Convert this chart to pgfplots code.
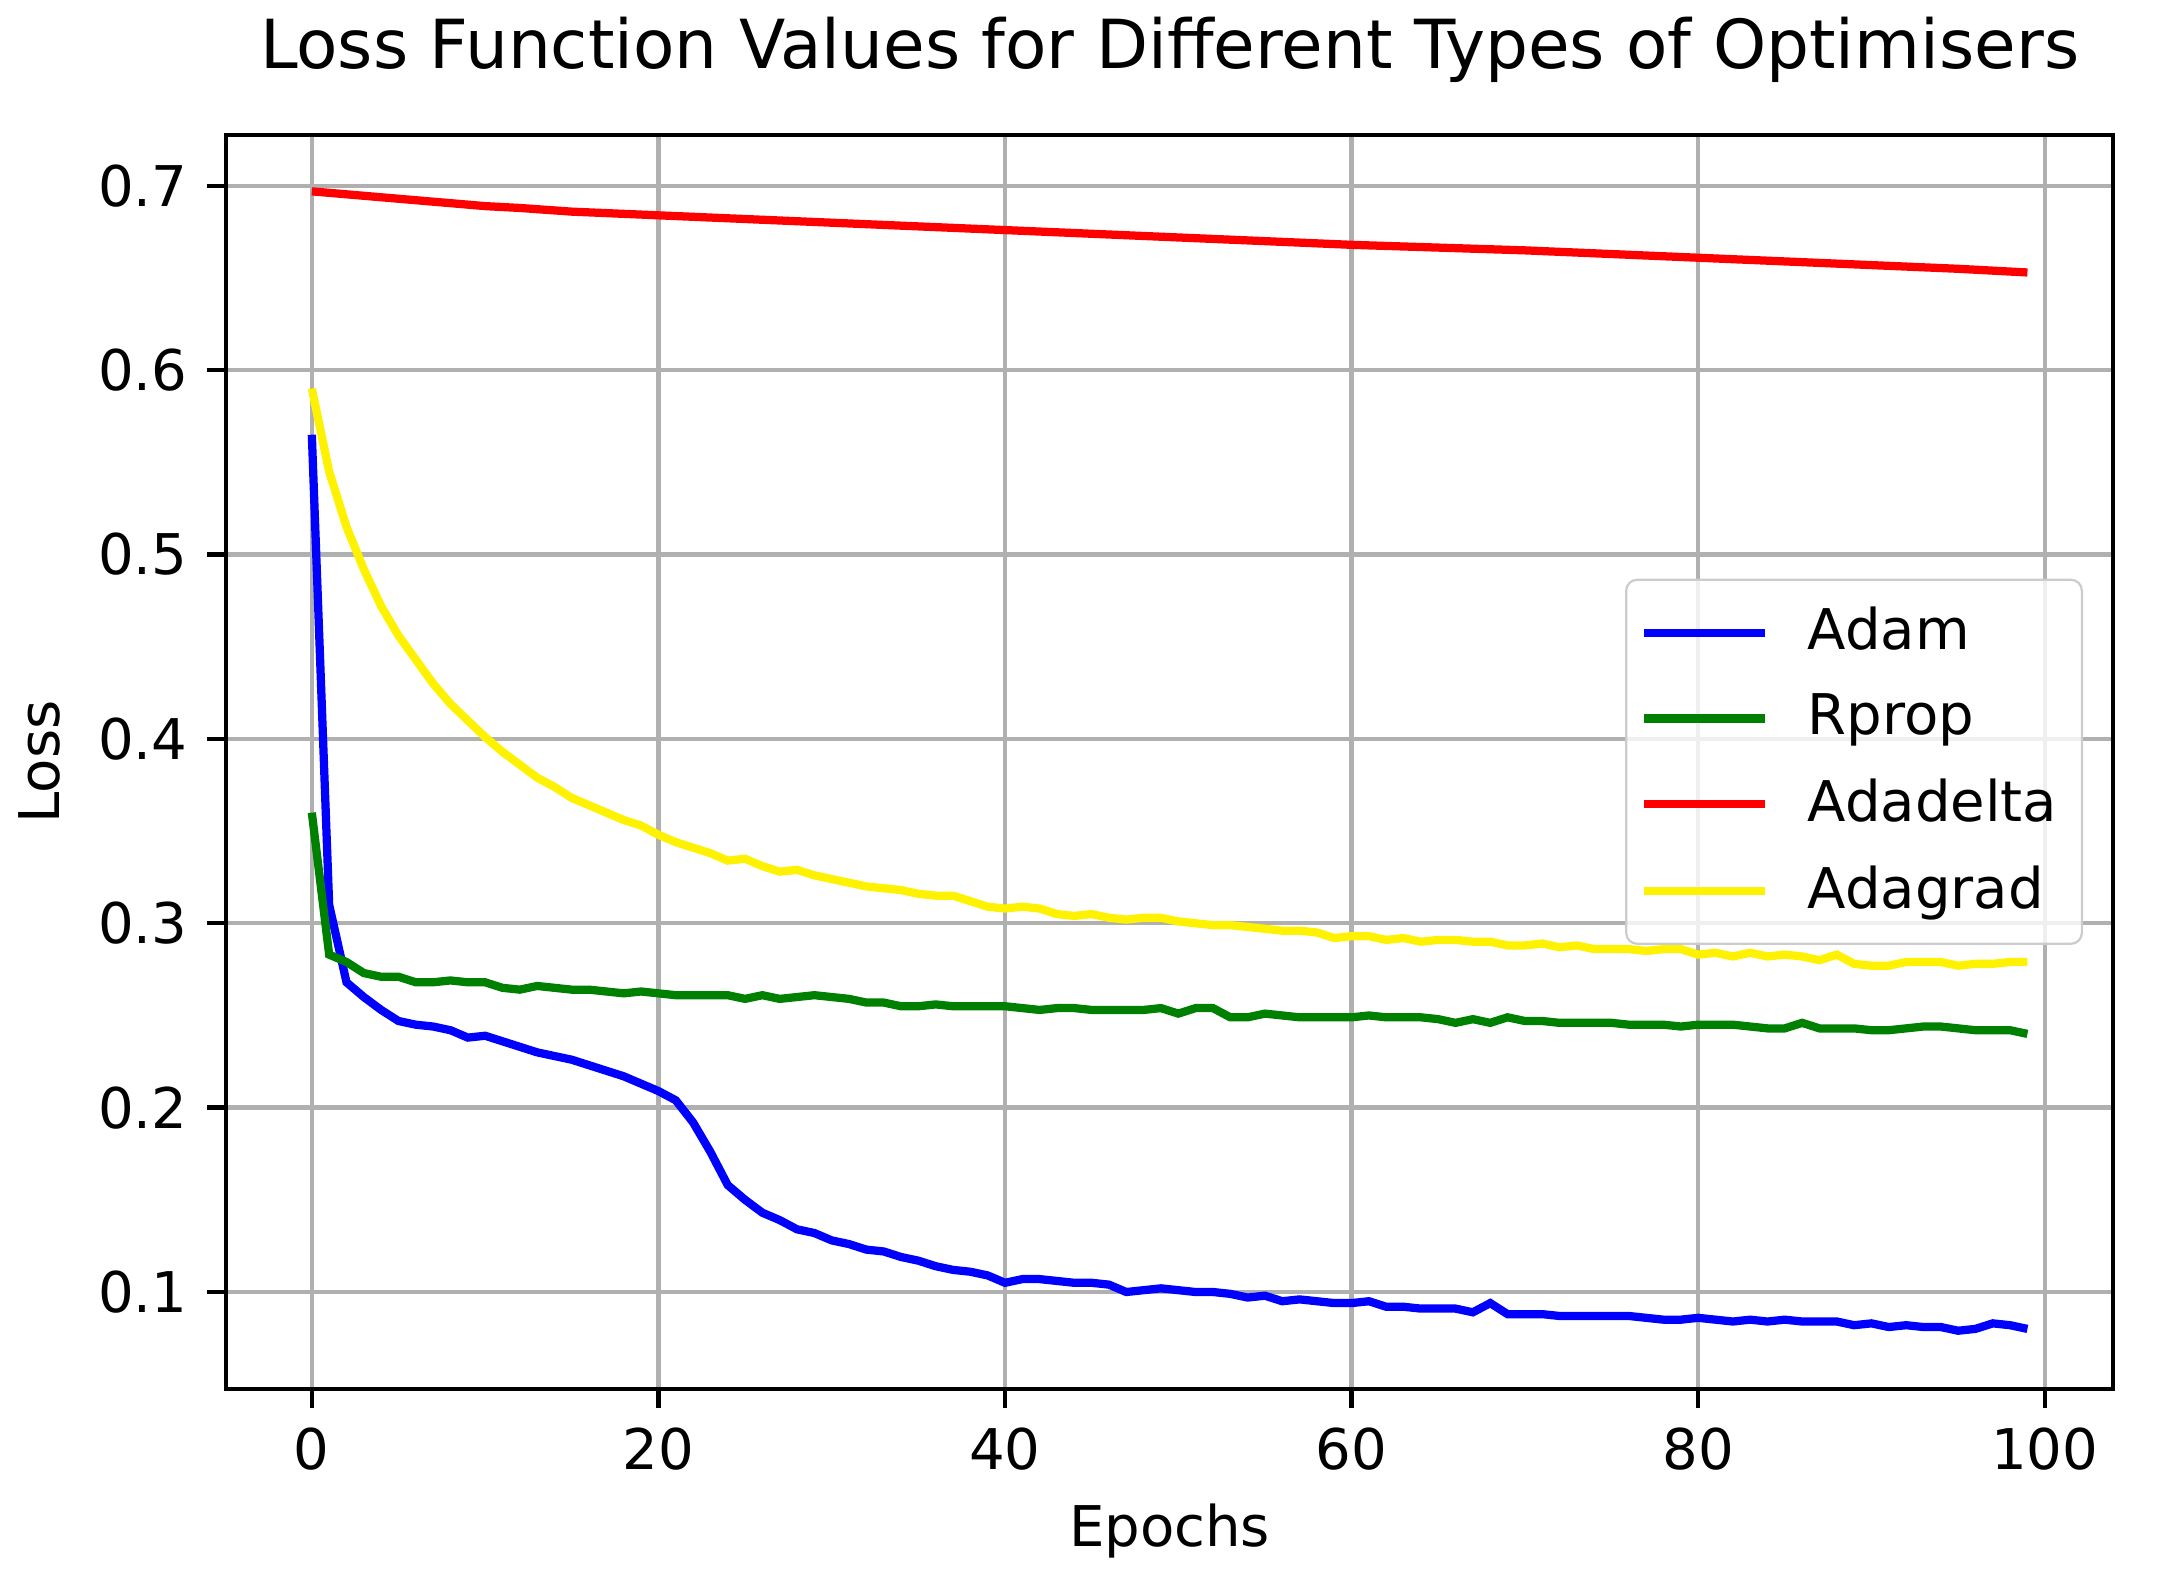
\documentclass[border=0pt]{standalone}
\usepackage{fontspec}
\setmainfont{DejaVu Sans}
\usepackage{pgfplots}
\pgfplotsset{compat=1.18}
\definecolor{gridgray}{RGB}{176,176,176}
\definecolor{mplgreen}{RGB}{0,128,0}
\definecolor{legedge}{RGB}{204,204,204}
\begin{document}
\begin{tikzpicture}
\begin{axis}[
  name=ax,
  scale only axis,
  width=343.1pt, height=228pt,
  xmin=-4.95, xmax=103.95, ymin=0.0475, ymax=0.7277,
  xtick={0,20,40,60,80,100},
  ytick={0.1,0.2,0.3,0.4,0.5,0.6,0.7},
  yticklabel style={/pgf/number format/fixed,/pgf/number format/precision=1,/pgf/number format/fixed zerofill},
  /pgf/number format/assume math mode=true,
  tick label style={font=\fontsize{10.2}{12}\selectfont},
  grid=major,
  major grid style={color=gridgray, line width=0.8pt},
  axis line style={line width=0.8pt},
  tick style={black, line width=0.8pt},
  tick align=outside,
  major tick length=3.5pt,
  tick pos=left,
  title={Loss Function Values for Different Types of Optimisers},
  title style={font=\fontsize{12.3}{15}\selectfont, at={(axis description cs:0.5,1)}, anchor=base, yshift=6pt},
  xlabel={Epochs},
  ylabel={Loss},
  label style={font=\fontsize{10.2}{12}\selectfont},
  xlabel style={at={(axis description cs:0.5,0)}, anchor=base, yshift=-28.7pt},
  ylabel style={at={(axis description cs:0,0.5)}, anchor=center, yshift=34pt},
  legend cell align=left,
  legend style={at={(axis description cs:0.984,0.5)}, anchor=east,
    draw=legedge, rounded corners=2pt, fill=white, fill opacity=0.8, text opacity=1,
    font=\fontsize{10.2}{12}\selectfont, row sep=2.5pt, inner xsep=2.5pt, inner ysep=3pt,
    /tikz/every odd column/.style={column sep=5pt}},
  legend image code/.code={\draw[#1] (0pt,0pt) -- (22pt,0pt);},
  every axis plot/.append style={line width=1.5pt},
]
\addplot[blue] coordinates {
(0,0.565)(1,0.310)(2,0.268)(3,0.260)(4,0.253)(5,0.247)(6,0.245)(7,0.244)(8,0.242)(9,0.238)
(10,0.239)(11,0.236)(12,0.233)(13,0.230)(14,0.228)(15,0.226)(16,0.223)(17,0.220)(18,0.217)(19,0.213)
(20,0.209)(21,0.204)(22,0.192)(23,0.176)(24,0.158)(25,0.150)(26,0.143)(27,0.139)(28,0.134)(29,0.132)
(30,0.128)(31,0.126)(32,0.123)(33,0.122)(34,0.119)(35,0.117)(36,0.114)(37,0.112)(38,0.111)(39,0.109)
(40,0.105)(41,0.107)(42,0.107)(43,0.106)(44,0.105)(45,0.105)(46,0.104)(47,0.100)(48,0.101)(49,0.102)
(50,0.101)(51,0.100)(52,0.100)(53,0.099)(54,0.097)(55,0.098)(56,0.095)(57,0.096)(58,0.095)(59,0.094)
(60,0.094)(61,0.095)(62,0.092)(63,0.092)(64,0.091)(65,0.091)(66,0.091)(67,0.089)(68,0.094)(69,0.088)
(70,0.088)(71,0.088)(72,0.087)(73,0.087)(74,0.087)(75,0.087)(76,0.087)(77,0.086)(78,0.085)(79,0.085)
(80,0.086)(81,0.085)(82,0.084)(83,0.085)(84,0.084)(85,0.085)(86,0.084)(87,0.084)(88,0.084)(89,0.082)
(90,0.083)(91,0.081)(92,0.082)(93,0.081)(94,0.081)(95,0.079)(96,0.080)(97,0.083)(98,0.082)(99,0.080)
};
\addlegendentry{Adam}
\addplot[mplgreen] coordinates {
(0,0.360)(1,0.283)(2,0.279)(3,0.273)(4,0.271)(5,0.271)(6,0.268)(7,0.268)(8,0.269)(9,0.268)
(10,0.268)(11,0.265)(12,0.264)(13,0.266)(14,0.265)(15,0.264)(16,0.264)(17,0.263)(18,0.262)(19,0.263)
(20,0.262)(21,0.261)(22,0.261)(23,0.261)(24,0.261)(25,0.259)(26,0.261)(27,0.259)(28,0.260)(29,0.261)
(30,0.260)(31,0.259)(32,0.257)(33,0.257)(34,0.255)(35,0.255)(36,0.256)(37,0.255)(38,0.255)(39,0.255)
(40,0.255)(41,0.254)(42,0.253)(43,0.254)(44,0.254)(45,0.253)(46,0.253)(47,0.253)(48,0.253)(49,0.254)
(50,0.251)(51,0.254)(52,0.254)(53,0.249)(54,0.249)(55,0.251)(56,0.250)(57,0.249)(58,0.249)(59,0.249)
(60,0.249)(61,0.250)(62,0.249)(63,0.249)(64,0.249)(65,0.248)(66,0.246)(67,0.248)(68,0.246)(69,0.249)
(70,0.247)(71,0.247)(72,0.246)(73,0.246)(74,0.246)(75,0.246)(76,0.245)(77,0.245)(78,0.245)(79,0.244)
(80,0.245)(81,0.245)(82,0.245)(83,0.244)(84,0.243)(85,0.243)(86,0.246)(87,0.243)(88,0.243)(89,0.243)
(90,0.242)(91,0.242)(92,0.243)(93,0.244)(94,0.244)(95,0.243)(96,0.242)(97,0.242)(98,0.242)(99,0.240)
};
\addlegendentry{Rprop}
\addplot[red] coordinates {
(0,0.697)(5,0.693)(10,0.689)(12,0.688)(15,0.686)(20,0.684)(25,0.682)(30,0.680)(35,0.678)(40,0.676)
(45,0.674)(50,0.672)(55,0.670)(60,0.668)(65,0.6665)(70,0.665)(75,0.663)(80,0.661)(85,0.659)(90,0.657)(95,0.655)(99,0.653)
};
\addlegendentry{Adadelta}
\addplot[yellow] coordinates {
(0,0.590)(1,0.545)(2,0.515)(3,0.492)(4,0.472)(5,0.456)(6,0.443)(7,0.430)(8,0.419)(9,0.410)
(10,0.401)(11,0.393)(12,0.386)(13,0.379)(14,0.374)(15,0.368)(16,0.364)(17,0.360)(18,0.356)(19,0.353)
(20,0.348)(21,0.344)(22,0.341)(23,0.338)(24,0.334)(25,0.335)(26,0.331)(27,0.328)(28,0.329)(29,0.326)
(30,0.324)(31,0.322)(32,0.320)(33,0.319)(34,0.318)(35,0.316)(36,0.315)(37,0.315)(38,0.312)(39,0.309)
(40,0.308)(41,0.309)(42,0.308)(43,0.305)(44,0.304)(45,0.305)(46,0.303)(47,0.302)(48,0.303)(49,0.303)
(50,0.301)(51,0.300)(52,0.299)(53,0.299)(54,0.298)(55,0.297)(56,0.296)(57,0.296)(58,0.295)(59,0.292)
(60,0.293)(61,0.293)(62,0.291)(63,0.292)(64,0.290)(65,0.291)(66,0.291)(67,0.290)(68,0.290)(69,0.288)
(70,0.288)(71,0.289)(72,0.287)(73,0.288)(74,0.286)(75,0.286)(76,0.286)(77,0.285)(78,0.286)(79,0.286)
(80,0.283)(81,0.284)(82,0.282)(83,0.284)(84,0.282)(85,0.283)(86,0.282)(87,0.280)(88,0.283)(89,0.278)
(90,0.277)(91,0.277)(92,0.279)(93,0.279)(94,0.279)(95,0.277)(96,0.278)(97,0.278)(98,0.279)(99,0.279)
};
\addlegendentry{Adagrad}
\end{axis}
\pgfresetboundingbox
\path ([xshift=-41.1pt,yshift=-36.7pt]ax.south west) rectangle ([xshift=9.6pt,yshift=24.5pt]ax.north east);
\end{tikzpicture}
\end{document}
